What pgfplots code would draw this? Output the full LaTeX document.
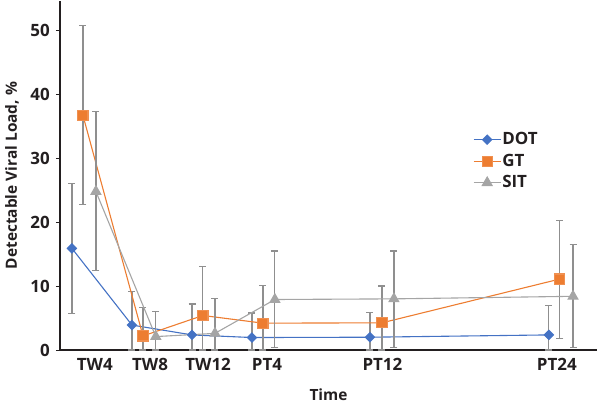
\documentclass[border=0pt]{standalone}
\usepackage{pgfplots}
\pgfplotsset{compat=1.18}
\usepackage{pgfplotstable}
\usepackage{fontspec}
\setmainfont{Open Sans}
\definecolor{cDOT}{HTML}{4472C4}
\definecolor{cGT}{HTML}{ED7D31}
\definecolor{cSIT}{HTML}{A5A5A5}
\definecolor{cErr}{HTML}{8F8F8F}
\definecolor{cAxis}{HTML}{231F20}

\pgfplotstableread{
x y ep em
3.26 15.9 10.2 10.2
7.29 3.9 5.3 3.9
11.32 2.36 4.84 2.36
15.34 1.95 3.85 1.95
23.26 2.0 3.9 2.0
35.27 2.36 4.64 2.36
}\dotdata
\pgfplotstableread{
x y ep em
4.0 36.7 14.1 13.9
8.03 2.2 4.4 2.2
12.05 5.4 7.7 5.4
16.08 4.2 5.9 4.2
24.07 4.25 5.75 4.25
36.0 11.1 9.2 9.3
}\gtdata
\pgfplotstableread{
x y ep em
4.87 24.8 12.5 12.3
8.89 2.1 3.9 2.1
12.86 2.6 5.5 2.6
16.88 7.9 7.6 7.5
24.87 8.0 7.5 7.6
36.89 8.4 8.1 8.0
}\sitdata

\newcommand{\lblfont}{\fontsize{17}{20}\selectfont\bfseries}
\newcommand{\ylblfont}{\fontsize{15.5}{18}\selectfont\bfseries}

\begin{document}
\begin{tikzpicture}
\useasboundingbox (-60bp,-54bp) rectangle (540bp,350bp);
\begin{axis}[
  scale only axis,
  width=537bp, height=349bp,
  xmin=2.46, xmax=38.5, ymin=0, ymax=54.6,
  axis x line*=bottom, axis y line*=left,
  axis line style={-, line width=1.2bp, cAxis},
  tick align=outside,
  x tick style={draw=none},
  y tick style={line width=1bp, cAxis},
  major tick length=4bp,
  /pgf/number format/assume math mode=true,
  xtick={4.8,8.5,12.4,16.35,24.1,35.8},
  xticklabels={TW4,TW8,TW12,PT4,PT12,PT24},
  ytick={0,10,20,30,40,50},
  x tick label style={font=\lblfont, inner sep=0pt, anchor=base, yshift=-16bp, text=cAxis},
  y tick label style={font=\lblfont, inner sep=0pt, anchor=east, xshift=-6bp, text=cAxis},
  xlabel={Time},
  ylabel={Detectable Viral Load, \%},
  every axis x label/.style={at={(axis description cs:0.5,-0.1461)}, anchor=base, font=\ylblfont, text=cAxis},
  every axis y label/.style={at={(axis description cs:-0.0801,0.5)}, rotate=90, anchor=base, font=\ylblfont, text=cAxis},
  legend style={at={(rel axis cs:0.769,0.629)}, anchor=north west, draw=none, fill=none, inner sep=0pt,
    font=\lblfont, row sep=3.5bp,
    nodes={inner sep=1bp, text height=13bp, text depth=3bp, text=cAxis}},
  legend cell align=left,
  legend image code/.code={\draw[mark repeat=2,mark phase=2,#1] plot coordinates {(0bp,0bp) (13.5bp,0bp) (27bp,0bp)};},
  error bars/y dir=both, error bars/y explicit,
  error bars/error bar style={line width=1.2bp, cErr},
  error bars/error mark options={rotate=90, mark size=3.5bp, line width=1.2bp, cErr},
]
\addplot[cDOT, line width=1.1bp, mark=square*, mark size=3.2bp, mark options={rotate=45, fill=cDOT, draw=cDOT}]
  table[x=x, y=y, y error plus=ep, y error minus=em] {\dotdata};
\addlegendentry{DOT}
\addplot[cGT, line width=1.1bp, mark=square*, mark size=5.1bp, mark options={fill=cGT, draw=cGT!85!white}]
  table[x=x, y=y, y error plus=ep, y error minus=em] {\gtdata};
\addlegendentry{GT}
\addplot[cSIT, line width=1.1bp, mark=triangle*, mark size=5.6bp, mark options={fill=cSIT, draw=cSIT}]
  table[x=x, y=y, y error plus=ep, y error minus=em] {\sitdata};
\addlegendentry{SIT}
\end{axis}
\end{tikzpicture}
\end{document}
